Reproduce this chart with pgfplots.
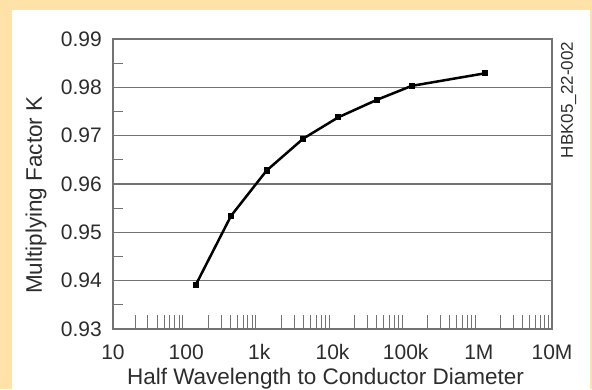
\documentclass[border=0pt]{standalone}
\usepackage{pgfplots}
\pgfplotsset{compat=1.18}
\usepackage{fontspec}
\setmainfont{Liberation Sans}
\definecolor{bgpeach}{RGB}{255,226,168}
\definecolor{gridgray}{RGB}{115,115,115}
\definecolor{txtgray}{RGB}{45,45,45}
\begin{document}
\begin{tikzpicture}[x=1pt,y=1pt]
\useasboundingbox (0,0) rectangle (592,389);
\fill[bgpeach] (0,0) rectangle (592,389);
\fill[white] (12,0) rectangle (590,379);
\begin{axis}[
  at={(113pt,60pt)}, anchor=south west,
  scale only axis, width=439pt, height=290pt,
  xmode=log, xmin=10, xmax=1e7, ymin=0.93, ymax=0.99,
  xtick={10,100,1000,10000,100000,1000000,10000000},
  xticklabels={10,100,1k,10k,100k,1M,10M},
  minor xtick={20,30,40,50,60,70,80,90,200,300,400,500,600,700,800,900,2000,3000,4000,5000,6000,7000,8000,9000,20000,30000,40000,50000,60000,70000,80000,90000,200000,300000,400000,500000,600000,700000,800000,900000,2000000,3000000,4000000,5000000,6000000,7000000,8000000,9000000},
  ytick={0.93,0.94,0.95,0.96,0.97,0.98,0.99},
  yticklabels={0.93,0.94,0.95,0.96,0.97,0.98,0.99},
  major tick length=0pt, minor tick length=14pt,
  tick align=inside,
  xtick pos=bottom, ytick pos=left,
  extra y ticks={0.935,0.945,0.955,0.965,0.975,0.985},
  extra y tick labels={},
  extra y tick style={major tick length=10pt, grid=none},
  ymajorgrids,
  grid style={gridgray, line width=1.3pt},
  axis line style={gridgray, line width=1.3pt},
  every tick/.style={gridgray, line width=1pt},
  ticklabel style={font=\fontsize{21}{24}\selectfont, text=txtgray},
  xticklabel style={anchor=base, inner sep=0pt, yshift=-30.5pt},
  yticklabel style={anchor=east, inner sep=0pt, xshift=-11pt},
  xlabel={Half Wavelength to Conductor Diameter},
  xlabel style={at={(axis description cs:0.484,-0.19)}, anchor=base, inner sep=0pt, font=\fontsize{22.5}{26}\selectfont, text=txtgray},
  ylabel={Multiplying Factor K},
  ylabel style={at={(axis description cs:-0.162,0.462)}, anchor=base, inner sep=0pt, font=\fontsize{22.5}{26}\selectfont, text=txtgray},
  clip=false,
]
\addplot[black, line width=2.5pt, mark=square*, mark size=1.8pt] coordinates {
  (135,0.9391) (410,0.9534) (1260,0.9628) (3990,0.9694) (12000,0.9738) (40200,0.9774) (120800,0.9803) (1210000,0.9829)
};
\node[rotate=90, anchor=center, inner sep=0pt, font=\fontsize{17}{20}\selectfont, text=txtgray] at (axis description cs:1.0376,0.79) {HBK05\_22-002};
\end{axis}
\end{tikzpicture}
\end{document}
